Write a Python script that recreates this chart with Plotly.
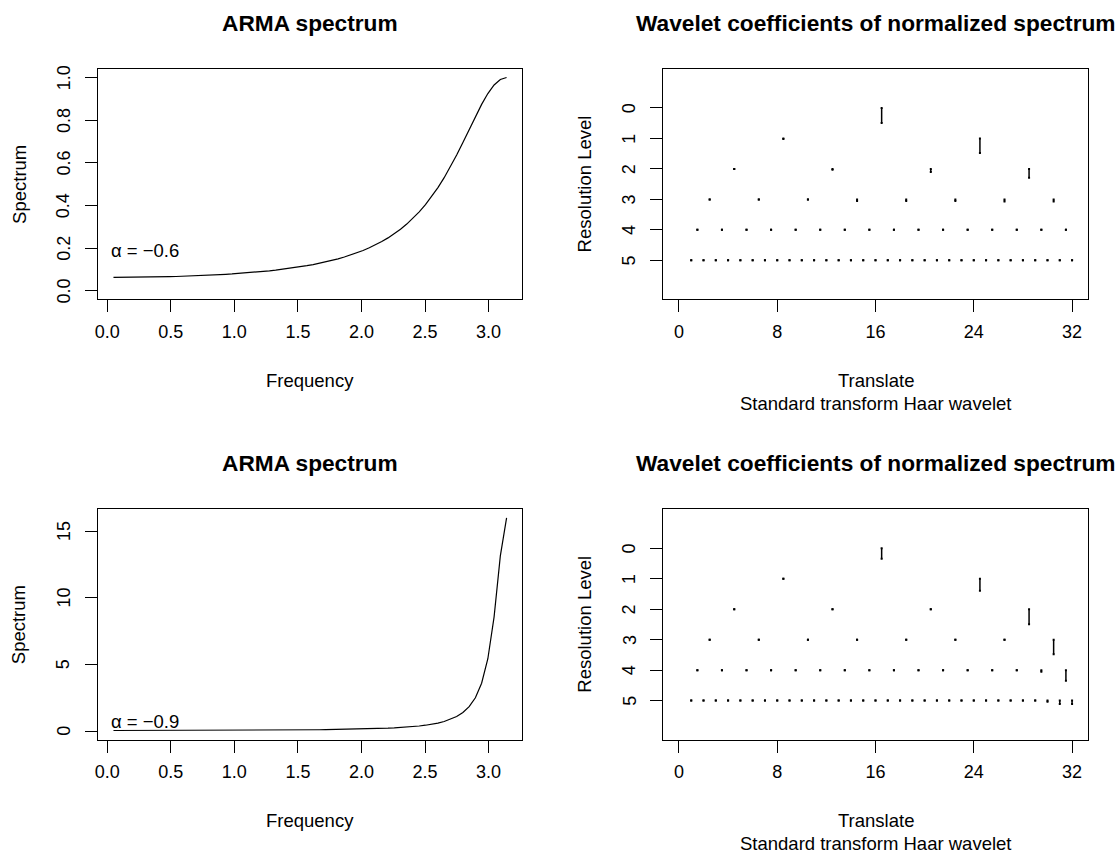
import plotly.graph_objects as go

# ---- ARMA spectra (frequency in radians) ----
freq = [0.0491, 0.0982, 0.1473, 0.1963, 0.2454, 0.2945, 0.3436, 0.3927, 0.4418, 0.4909,
        0.5400, 0.5890, 0.6381, 0.6872, 0.7363, 0.7854, 0.8345, 0.8836, 0.9327, 0.9817,
        1.0308, 1.0799, 1.1290, 1.1781, 1.2272, 1.2763, 1.3254, 1.3744, 1.4235, 1.4726,
        1.5217, 1.5708, 1.6199, 1.6690, 1.7181, 1.7671, 1.8162, 1.8653, 1.9144, 1.9635,
        2.0126, 2.0617, 2.1108, 2.1598, 2.2089, 2.2580, 2.3071, 2.3562, 2.4053, 2.4544,
        2.5035, 2.5525, 2.6016, 2.6507, 2.6998, 2.7489, 2.7980, 2.8471, 2.8962, 2.9452,
        2.9943, 3.0434, 3.0925, 3.1416]

spec_a06 = [0.0625, 0.0626, 0.0628, 0.0631, 0.0634, 0.0638, 0.0643, 0.0648, 0.0654, 0.0662,
            0.0670, 0.0679, 0.0689, 0.0699, 0.0711, 0.0724, 0.0739, 0.0754, 0.0771, 0.0789,
            0.0809, 0.0831, 0.0854, 0.0880, 0.0907, 0.0937, 0.0969, 0.1004, 0.1042, 0.1083,
            0.1128, 0.1176, 0.1230, 0.1288, 0.1351, 0.1421, 0.1498, 0.1582, 0.1674, 0.1776,
            0.1889, 0.2014, 0.2153, 0.2308, 0.2480, 0.2672, 0.2887, 0.3128, 0.3398, 0.3700,
            0.4039, 0.4417, 0.4838, 0.5303, 0.5814, 0.6366, 0.6952, 0.7559, 0.8165, 0.8740,
            0.9249, 0.9652, 0.9910, 1.0000]

spec_a09 = [0.0443, 0.0444, 0.0446, 0.0448, 0.0450, 0.0453, 0.0457, 0.0461, 0.0466, 0.0471,
            0.0477, 0.0484, 0.0491, 0.0500, 0.0509, 0.0519, 0.0530, 0.0542, 0.0555, 0.0569,
            0.0585, 0.0602, 0.0620, 0.0640, 0.0662, 0.0686, 0.0712, 0.0740, 0.0771, 0.0805,
            0.0843, 0.0884, 0.0929, 0.0979, 0.1035, 0.1097, 0.1166, 0.1243, 0.1329, 0.1427,
            0.1538, 0.1664, 0.1809, 0.1975, 0.2169, 0.2395, 0.2661, 0.2978, 0.3359, 0.3822,
            0.4393, 0.5106, 0.6013, 0.7190, 0.8752, 1.0883, 1.3886, 1.8284, 2.5022, 3.5885,
            5.4272, 8.5713, 13.1482, 16.0000]

alpha_labels = ["α = −0.6", "α = −0.9"]
alpha_pos = [(0.30, 0.19), (0.30, 0.71)]

freq_ticks = [0.0, 0.5, 1.0, 1.5, 2.0, 2.5, 3.0]
freq_ticktext = ["0.0", "0.5", "1.0", "1.5", "2.0", "2.5", "3.0"]
spec1_ticks = [0.0, 0.2, 0.4, 0.6, 0.8, 1.0]
spec1_ticktext = ["0.0", "0.2", "0.4", "0.6", "0.8", "1.0"]
spec2_ticks = [0, 5, 10, 15]
spec2_ticktext = ["0", "5", "10", "15"]

# ---- Haar wavelet coefficients of the normalized spectra (scaled, per level) ----
a06_level0 = [0.49]
a06_level1 = [0.02, 0.48]
a06_level2 = [0.0, 0.03, 0.10, 0.29]
a06_level3 = [0.0, 0.0, 0.0, 0.05, 0.05, 0.05, 0.07, 0.07]
a06_level4 = [0.0, 0.0, 0.0, 0.0, 0.0, 0.0, 0.0, 0.0,
              0.0, 0.0, 0.0, 0.0, 0.0, 0.0, 0.0, 0.0]
a06_level5 = [0.0, 0.0, 0.0, 0.0, 0.0, 0.0, 0.0, 0.0,
              0.0, 0.0, 0.0, 0.0, 0.0, 0.0, 0.0, 0.0,
              0.0, 0.0, 0.0, 0.0, 0.0, 0.0, 0.0, 0.0,
              0.0, 0.0, 0.0, 0.0, 0.0, 0.0, 0.0, 0.0]

a09_level0 = [0.34]
a09_level1 = [0.0, 0.39]
a09_level2 = [0.0, 0.0, 0.0, 0.49]
a09_level3 = [0.0, 0.0, 0.0, 0.0, 0.0, 0.0, 0.0, 0.48]
a09_level4 = [0.0, 0.0, 0.0, 0.0, 0.0, 0.0, 0.0, 0.0,
              0.0, 0.0, 0.0, 0.0, 0.0, 0.0, 0.05, 0.35]
a09_level5 = [0.0, 0.0, 0.0, 0.0, 0.0, 0.0, 0.0, 0.0,
              0.0, 0.0, 0.0, 0.0, 0.0, 0.0, 0.0, 0.0,
              0.0, 0.0, 0.0, 0.0, 0.0, 0.0, 0.0, 0.0,
              0.0, 0.0, 0.0, 0.0, 0.0, 0.04, 0.11, 0.11]

level_ticks = [0, 1, 2, 3, 4, 5]
level_ticktext = ["0", "1", "2", "3", "4", "5"]
translate_ticks = [0, 8, 16, 24, 32]
translate_ticktext = ["0", "8", "16", "24", "32"]
n_translate = 32

FONT = "Liberation Sans, Arial, sans-serif"
INK = "black"

fig = go.Figure()

# spectra
fig.add_trace(go.Scatter(x=freq, y=spec_a06, mode="lines", xaxis="x", yaxis="y",
                         line=dict(color=INK, width=1.2), showlegend=False, hoverinfo="skip"))
fig.add_trace(go.Scatter(x=freq, y=spec_a09, mode="lines", xaxis="x3", yaxis="y3",
                         line=dict(color=INK, width=1.2), showlegend=False, hoverinfo="skip"))


def coefficient_traces(levels, xa, ya):
    """Vertical sticks hanging from each resolution level line."""
    xs, ys, cx, cy = [], [], [], []
    for lev, vals in enumerate(levels):
        step = n_translate / len(vals)
        for k, v in enumerate(vals):
            x = 0.5 + (k + 0.5) * step
            xs += [x, x, None]
            ys += [lev, lev + v, None]
            cx += [x, x]
            cy += [lev, lev + v]
    sticks = go.Scatter(x=xs, y=ys, mode="lines", xaxis=xa, yaxis=ya,
                        line=dict(color=INK, width=1.5), showlegend=False,
                        hoverinfo="skip", connectgaps=False)
    caps = go.Scatter(x=cx, y=cy, mode="markers", xaxis=xa, yaxis=ya,
                      marker=dict(color=INK, size=2, symbol="square", line=dict(width=0)),
                      showlegend=False, hoverinfo="skip")
    return [sticks, caps]


for tr in coefficient_traces([a06_level0, a06_level1, a06_level2, a06_level3,
                              a06_level4, a06_level5], "x2", "y2"):
    fig.add_trace(tr)
for tr in coefficient_traces([a09_level0, a09_level1, a09_level2, a09_level3,
                              a09_level4, a09_level5], "x4", "y4"):
    fig.add_trace(tr)

W, H = 1120, 857
col_left = [95 / W, 520.7 / W]
col_right = [662 / W, 1087.7 / W]
row_top = [1 - 299.3 / H, 1 - 69 / H]
row_bottom = [1 - 739.6 / H, 1 - 509.3 / H]

tickfont = dict(family=FONT, size=18, color=INK)


def axis_common(**kw):
    d = dict(showline=True, linecolor=INK, linewidth=1, mirror=True,
             ticks="outside", ticklen=12, tickwidth=1, tickcolor=INK,
             showgrid=False, zeroline=False, tickfont=tickfont,
             ticklabelstandoff=4, fixedrange=True)
    d.update(kw)
    return d


fig.update_layout(
    width=W, height=H,
    margin=dict(l=0, r=0, t=0, b=0),
    paper_bgcolor="white", plot_bgcolor="white",
    font=dict(family=FONT, color=INK),
    xaxis=axis_common(domain=col_left, anchor="y", range=[-0.0746, 3.2653],
                      tickvals=freq_ticks, ticktext=freq_ticktext),
    yaxis=axis_common(domain=row_top, anchor="x", range=[-0.04, 1.04],
                      tickvals=spec1_ticks, showticklabels=False),
    xaxis2=axis_common(domain=col_right, anchor="y2", range=[-1.28, 33.28],
                       tickvals=translate_ticks, ticktext=translate_ticktext),
    yaxis2=axis_common(domain=row_top, anchor="x2", range=[6.28, -1.28],
                       tickvals=level_ticks, showticklabels=False),
    xaxis3=axis_common(domain=col_left, anchor="y3", range=[-0.0746, 3.2653],
                       tickvals=freq_ticks, ticktext=freq_ticktext),
    yaxis3=axis_common(domain=row_bottom, anchor="x3", range=[-0.64, 16.64],
                       tickvals=spec2_ticks, showticklabels=False),
    xaxis4=axis_common(domain=col_right, anchor="y4", range=[-1.28, 33.28],
                       tickvals=translate_ticks, ticktext=translate_ticktext),
    yaxis4=axis_common(domain=row_bottom, anchor="x4", range=[6.28, -1.28],
                       tickvals=level_ticks, showticklabels=False),
)

ann = []
title_font = dict(family=FONT, size=22.7, color=INK)
label_font = dict(family=FONT, size=18.5, color=INK)


def panel_text(xa, ya, title, xlab, ylab, sub=None):
    xd, yd = xa + " domain", ya + " domain"
    ann.append(dict(text="<b>%s</b>" % title, xref=xd, yref=yd, x=0.5, y=1,
                    xanchor="center", yanchor="middle", yshift=46,
                    showarrow=False, font=title_font))
    ann.append(dict(text=xlab, xref=xd, yref=yd, x=0.5, y=0,
                    xanchor="center", yanchor="middle", yshift=-81,
                    showarrow=False, font=label_font))
    ann.append(dict(text=ylab, xref=xd, yref=yd, x=0, y=0.5, textangle=-90,
                    xanchor="center", yanchor="middle", xshift=-79,
                    showarrow=False, font=label_font))
    if sub:
        ann.append(dict(text=sub, xref=xd, yref=yd, x=0.5, y=0,
                        xanchor="center", yanchor="middle", yshift=-104,
                        showarrow=False, font=label_font))


def y_tick_labels(xa, ya, vals, texts):
    # rotated labels sitting one text line left of the axis
    for v, t in zip(vals, texts):
        ann.append(dict(text=t, xref=xa + " domain", yref=ya, x=0, y=v, textangle=-90,
                        xanchor="center", yanchor="middle", xshift=-34,
                        showarrow=False, font=tickfont))


panel_text("x", "y", "ARMA spectrum", "Frequency", "Spectrum")
panel_text("x2", "y2", "Wavelet coefficients of normalized spectrum", "Translate",
           "Resolution Level", "Standard transform Haar wavelet")
panel_text("x3", "y3", "ARMA spectrum", "Frequency", "Spectrum")
panel_text("x4", "y4", "Wavelet coefficients of normalized spectrum", "Translate",
           "Resolution Level", "Standard transform Haar wavelet")

y_tick_labels("x", "y", spec1_ticks, spec1_ticktext)
y_tick_labels("x2", "y2", level_ticks, level_ticktext)
y_tick_labels("x3", "y3", spec2_ticks, spec2_ticktext)
y_tick_labels("x4", "y4", level_ticks, level_ticktext)

for (xa, ya), label, (ax, ay) in zip([("x", "y"), ("x3", "y3")], alpha_labels, alpha_pos):
    ann.append(dict(text=label, xref=xa, yref=ya, x=ax, y=ay, xanchor="center",
                    yanchor="middle", showarrow=False, font=label_font))

fig.update_layout(annotations=ann)

fig.write_html("out.html")
